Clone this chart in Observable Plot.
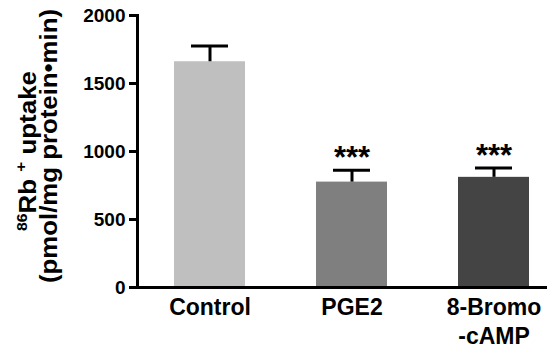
<!DOCTYPE html>
<html>
<head>
<meta charset="utf-8">
<script src="https://cdn.jsdelivr.net/npm/d3@7"></script>
<script src="https://cdn.jsdelivr.net/npm/@observablehq/plot@0.6"></script>
<style>
  body { margin: 0; background: #fff; }
  svg { font-family: "Liberation Sans", Arial, sans-serif; }
</style>
</head>
<body>
<div id="chart"></div>
<script>
const categories = ["Control", "PGE2", "8-Bromo\n-cAMP"];
const means = [1660, 775, 810];
const errorTops = [1775, 862, 878];
const significance = ["", "***", "***"];
const colors = ["#bfbfbf", "#7f7f7f", "#444444"];
const yTicks = [0, 500, 1000, 1500, 2000];

const data = categories.map((c, i) => ({
  category: c, mean: means[i], err: errorTops[i], sig: significance[i], color: colors[i]
}));

const plot = Plot.plot({
  width: 550,
  height: 351,
  marginLeft: 137,
  marginRight: 3,
  marginTop: 15,
  marginBottom: 64,
  style: { fontFamily: "Liberation Sans, Arial, sans-serif", background: "#fff", color: "#000" },
  x: { domain: categories, paddingInner: 0.5, paddingOuter: 0.187, align: 0.68, label: null },
  y: { domain: [0, 2000], label: null },
  marks: [
    Plot.barY(data, { x: "category", y: "mean", fill: "color" }),
    Plot.ruleX(data, { x: "category", y1: "mean", y2: "err", stroke: "#000", strokeWidth: 3 }),
    Plot.tickY(data, { x: "category", y: "err", stroke: "#000", strokeWidth: 3, insetLeft: 17, insetRight: 17 }),
    Plot.text(data.filter(d => d.sig), { x: "category", y: "err", text: "sig", fontSize: 31, fontWeight: "bold", lineAnchor: "bottom", dy: -2 }),
    Plot.ruleY([0], { stroke: "#000", strokeWidth: 3 }),
    Plot.frame({ anchor: "left", stroke: "#000", strokeWidth: 3 }),
    Plot.axisY({ ticks: yTicks, tickSize: 8, tickPadding: 4, tickFormat: d => String(d), fontSize: 19, fontWeight: "bold", strokeWidth: 3, label: null }),
    Plot.axisX({ tickSize: 0, tickPadding: 7, fontSize: 23, fontWeight: "bold", lineHeight: 1.25, label: null })
  ]
});

document.getElementById("chart").appendChild(plot);

// Y-axis title (two lines, rotated)
const svg = d3.select(plot);
const t1 = svg.append("text")
  .attr("transform", "translate(36,151) rotate(-90)")
  .attr("text-anchor", "middle")
  .attr("font-size", 23)
  .attr("font-weight", "bold")
  .attr("fill", "#000")
  .attr("textLength", 160)
  .attr("lengthAdjust", "spacingAndGlyphs");
t1.append("tspan").attr("font-size", 14).attr("dy", -9).text("86");
t1.append("tspan").attr("dy", 9).text("Rb ");
t1.append("tspan").attr("font-size", 15).attr("dy", -10).text("+");
t1.append("tspan").attr("dy", 10).text(" uptake");

svg.append("text")
  .attr("transform", "translate(57,146) rotate(-90)")
  .attr("text-anchor", "middle")
  .attr("font-size", 23)
  .attr("font-weight", "bold")
  .attr("fill", "#000")
  .attr("textLength", 274)
  .attr("lengthAdjust", "spacingAndGlyphs")
  .text("(pmol/mg protein\u2022min)");
</script>
</body>
</html>
